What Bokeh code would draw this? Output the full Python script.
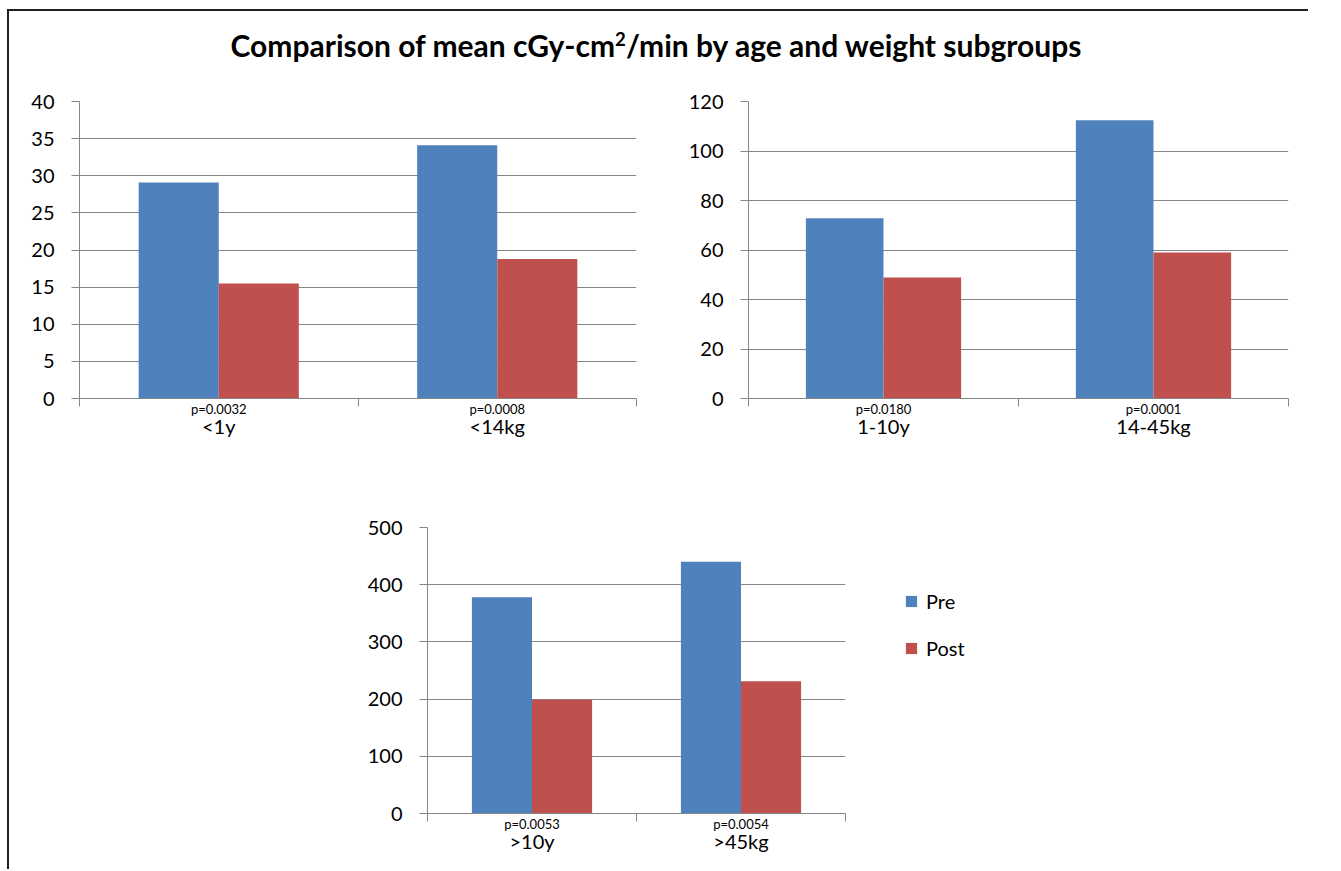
from bokeh.plotting import figure
from bokeh.models import (FactorRange, Range1d, LinearAxis, CategoricalAxis, FixedTicker,
                          ColumnDataSource, Legend, LegendItem, Div, Spacer, Grid)
from bokeh.transform import dodge
from bokeh.layouts import column, row
from bokeh.embed import file_html
from bokeh.resources import INLINE

# ---------------- data ----------------
title_text = 'Comparison of mean cGy-cm<sup style="font-size:0.62em">2</sup>/min by age and weight subgroups'
series_names = ["Pre", "Post"]

p1_groups = ["<1y", "<14kg"]
p1_pvals = ["p=0.0032", "p=0.0008"]
p1_pre = [29.1, 34.1]
p1_post = [15.5, 18.8]
p1_yticks = [0, 5, 10, 15, 20, 25, 30, 35, 40]

p2_groups = ["1-10y", "14-45kg"]
p2_pvals = ["p=0.0180", "p=0.0001"]
p2_pre = [72.8, 112.4]
p2_post = [48.9, 59.0]
p2_yticks = [0, 20, 40, 60, 80, 100, 120]

p3_groups = [">10y", ">45kg"]
p3_pvals = ["p=0.0053", "p=0.0054"]
p3_pre = [378, 440]
p3_post = [199, 231]
p3_yticks = [0, 100, 200, 300, 400, 500]

# ---------------- style ----------------
BLUE = "#4F81BD"
RED = "#C0504D"
GRAY = "#868686"
FONT = "Lato"
COLORS = [BLUE, RED]


def make_panel(groups, pvals, pre, post, yticks, width, height, bl, br, bt, bb):
    factors = list(zip(groups, pvals))
    xr = FactorRange(factors=factors, group_padding=1.0, range_padding=0.5,
                     range_padding_units="absolute")
    yr = Range1d(yticks[0], yticks[-1])
    p = figure(width=width, height=height, x_range=xr, y_range=yr,
               x_axis_location=None, y_axis_location=None,
               output_backend="svg", toolbar_location=None,
               min_border_left=bl, min_border_right=br, min_border_top=bt, min_border_bottom=bb)
    p.center = [r for r in p.center if not isinstance(r, Grid)]
    p.outline_line_color = None
    p.background_fill_color = "white"
    p.border_fill_color = None

    yax = LinearAxis(ticker=FixedTicker(ticks=yticks), major_tick_out=8, major_tick_in=0,
                     minor_tick_line_color=None, axis_line_color=GRAY, major_tick_line_color=GRAY,
                     major_label_text_font_size="20px", major_label_text_font=FONT,
                     major_label_text_color="black", major_label_standoff=17)
    p.add_layout(yax, "left")
    p.add_layout(Grid(dimension=1, ticker=yax.ticker, grid_line_color=GRAY, grid_line_width=1))

    # tick marks between categories (Excel style), in the range's synthetic coordinates
    s, e = -0.5, 3.5
    tax = LinearAxis(ticker=FixedTicker(ticks=[s, (s + e) / 2, e]),
                     major_tick_in=0, major_tick_out=8,
                     major_tick_line_color=GRAY, axis_line_color=GRAY,
                     minor_tick_line_color=None, major_label_text_font_size="0px",
                     major_label_standoff=0,
                     major_label_overrides={s: "", (s + e) / 2: "", e: ""})
    p.add_layout(tax, "below")

    # category axis: p-values next to the axis, group names below
    xax = CategoricalAxis(major_tick_line_color=None, major_tick_out=0, major_tick_in=0,
                          axis_line_color=None, separator_line_color=None,
                          major_label_text_font_size="13px", major_label_text_font=FONT,
                          major_label_text_color="black", major_label_standoff=-6,
                          major_label_text_line_height=1.6,
                          group_text_font_size="20px", group_text_font=FONT,
                          group_text_font_style="normal", group_text_color="black")
    p.add_layout(xax, "below")

    src = ColumnDataSource(dict(x=factors, pre=pre, post=post))
    p.vbar(x=dodge("x", -0.2875, range=xr), top="pre", width=0.575, source=src,
           fill_color=COLORS[0], line_color=None)
    p.vbar(x=dodge("x", 0.2875, range=xr), top="post", width=0.575, source=src,
           fill_color=COLORS[1], line_color=None)
    return p, src, factors


f1, _, _ = make_panel(p1_groups, p1_pvals, p1_pre, p1_post, p1_yticks,
                      width=663, height=385, bl=70, br=36, bt=25, bb=62)
f2, _, _ = make_panel(p2_groups, p2_pvals, p2_pre, p2_post, p2_yticks,
                      width=636, height=385, bl=76, br=20, bt=26, bb=62)
f3, src3, fac3 = make_panel(p3_groups, p3_pvals, p3_pre, p3_post, p3_yticks,
                            width=518, height=409, bl=80, br=20, bt=67, bb=56)

# legend panel: series swatches (zero-width bars sharing the data; only the legend shows)
lg = figure(width=200, height=409, x_range=FactorRange(factors=fac3),
            y_range=Range1d(p3_yticks[0], p3_yticks[-1]),
            x_axis_location=None, y_axis_location=None, output_backend="svg",
            toolbar_location=None, min_border=0)
lg.center = [r for r in lg.center if not isinstance(r, Grid)]
lg.outline_line_color = None
lg.border_fill_color = None
lg.background_fill_color = None
items = []
for name, col, field in zip(series_names, COLORS, ["pre", "post"]):
    r = lg.vbar(x="x", top=field, width=0, source=src3,
                fill_color=col, line_color=None)
    items.append(LegendItem(label=name, renderers=[r]))
legend = Legend(items=items, location=(39, 153), orientation="vertical",
                label_text_font=FONT, label_text_font_size="20px", label_text_color="black",
                glyph_width=14, glyph_height=14, label_height=20, spacing=23,
                padding=0, margin=0, border_line_color=None, background_fill_color=None,
                label_standoff=8)
lg.add_layout(legend, "center")

title = Div(text='<span style="position:relative; top:-4px;">' + title_text + '</span>',
            width=1294, height=64, margin=0,
            styles={"text-align": "center", "font-family": FONT, "font-weight": "bold",
                    "font-size": "30px", "color": "black", "line-height": "64px"})

layout = column(
    title,
    row(f1, f2),
    row(Spacer(width=338, height=409), f3, lg),
    margin=(9, 0, 0, 7),
    styles={"border-top": "2px solid #202020", "border-left": "2px solid #202020"},
)

open("out.html", "w").write(file_html(layout, INLINE))
